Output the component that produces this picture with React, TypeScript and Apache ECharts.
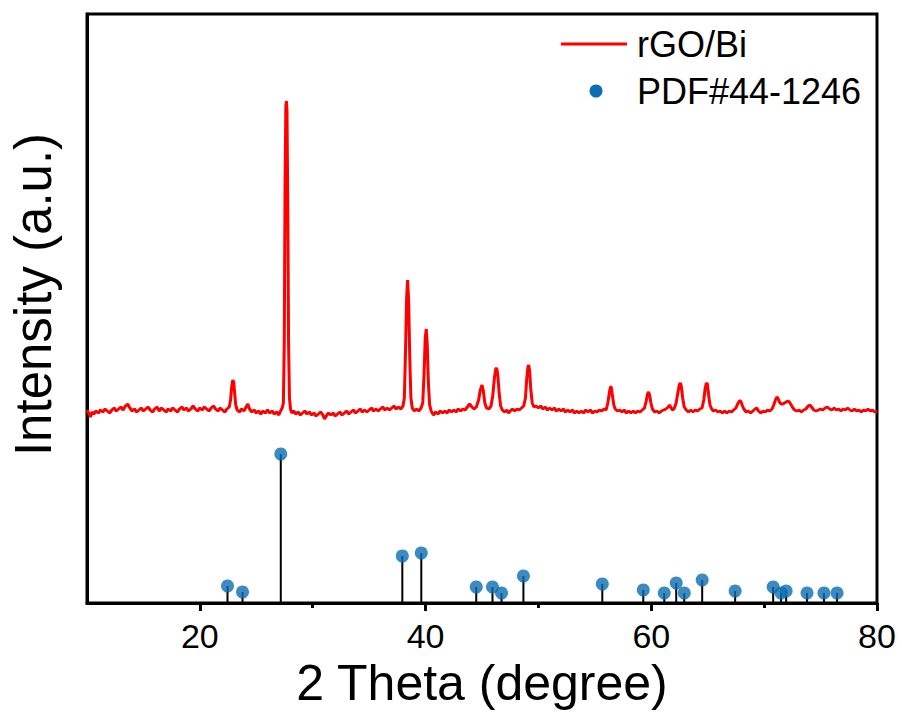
import React, { useEffect, useRef } from "react";
import * as echarts from "echarts";

// ---- data ----
// rGO/Bi XRD pattern: [2θ (degree), intensity (a.u.)]
const xrdPattern: [number, number][] = [
  [10.0, 193], [10.15, 190], [10.3, 186], [10.45, 191], [10.6, 189], [10.8, 192], [11.0, 190], [11.2, 193], [11.4, 191], [11.6, 194],
  [11.8, 192], [12.0, 190], [12.2, 193], [12.4, 195], [12.6, 192], [12.8, 194], [13.0, 196], [13.2, 193], [13.4, 197], [13.6, 199],
  [13.8, 195], [14.0, 192], [14.2, 194], [14.4, 191], [14.6, 193], [14.8, 195], [15.0, 192], [15.2, 194], [15.4, 196], [15.6, 193],
  [15.8, 191], [16.0, 194], [16.2, 196], [16.4, 192], [16.6, 195], [16.8, 193], [17.0, 191], [17.2, 194], [17.4, 192], [17.6, 195],
  [17.8, 193], [18.0, 191], [18.2, 194], [18.4, 196], [18.6, 193], [18.8, 195], [19.0, 192], [19.2, 194], [19.4, 197], [19.6, 194],
  [19.8, 192], [20.0, 195], [20.2, 193], [20.4, 196], [20.6, 194], [20.8, 192], [21.0, 195], [21.2, 197], [21.4, 194], [21.6, 192],
  [21.8, 195], [22.0, 193], [22.2, 191], [22.4, 194], [22.6, 196], [22.72, 203], [22.82, 216], [22.92, 223], [23.0, 221], [23.08, 210],
  [23.18, 198], [23.3, 193], [23.5, 191], [23.7, 194], [23.9, 192], [24.1, 196], [24.25, 199], [24.4, 194], [24.6, 191], [24.8, 193],
  [25.0, 190], [25.2, 192], [25.4, 189], [25.6, 192], [25.8, 190], [26.0, 193], [26.2, 190], [26.4, 192], [26.6, 189], [26.8, 191],
  [27.0, 188], [27.15, 192], [27.3, 195], [27.4, 200], [27.48, 260], [27.55, 420], [27.62, 497], [27.67, 502], [27.72, 492], [27.79, 400],
  [27.86, 260], [27.94, 205], [28.03, 194], [28.15, 190], [28.3, 192], [28.5, 189], [28.7, 191], [28.9, 188], [29.1, 190], [29.3, 192],
  [29.5, 189], [29.7, 191], [29.9, 188], [30.1, 190], [30.3, 187], [30.5, 189], [30.7, 191], [30.9, 188], [31.05, 184], [31.2, 187],
  [31.4, 190], [31.6, 188], [31.8, 190], [32.0, 187], [32.2, 189], [32.4, 191], [32.6, 188], [32.8, 190], [33.0, 192], [33.2, 189],
  [33.4, 191], [33.6, 193], [33.8, 190], [34.0, 192], [34.2, 194], [34.4, 191], [34.6, 193], [34.8, 191], [35.0, 193], [35.2, 195],
  [35.4, 192], [35.6, 194], [35.8, 192], [36.0, 194], [36.2, 196], [36.4, 193], [36.6, 195], [36.8, 193], [37.0, 195], [37.2, 197],
  [37.4, 194], [37.6, 196], [37.8, 194], [38.0, 197], [38.12, 205], [38.22, 250], [38.32, 305], [38.41, 323], [38.5, 302], [38.6, 245],
  [38.7, 205], [38.82, 195], [39.0, 192], [39.2, 194], [39.4, 192], [39.6, 195], [39.75, 200], [39.87, 230], [39.97, 265], [40.06, 274],
  [40.15, 258], [40.25, 220], [40.36, 198], [40.5, 192], [40.7, 188], [40.9, 191], [41.1, 189], [41.3, 192], [41.5, 190], [41.7, 192],
  [41.9, 190], [42.1, 193], [42.3, 191], [42.5, 193], [42.7, 191], [42.9, 194], [43.1, 192], [43.3, 194], [43.5, 193], [43.7, 196],
  [43.9, 199], [44.1, 196], [44.3, 194], [44.5, 196], [44.7, 203], [44.85, 213], [45.0, 218], [45.12, 212], [45.25, 200], [45.4, 195],
  [45.6, 194], [45.8, 197], [45.95, 207], [46.1, 225], [46.22, 234], [46.3, 235], [46.4, 228], [46.52, 210], [46.65, 197], [46.8, 193],
  [47.0, 191], [47.2, 193], [47.35, 190], [47.5, 192], [47.7, 194], [47.9, 192], [48.1, 194], [48.3, 193], [48.5, 195], [48.7, 197],
  [48.85, 205], [48.97, 225], [49.07, 236], [49.14, 238], [49.22, 232], [49.32, 214], [49.45, 200], [49.6, 196], [49.8, 197], [50.0, 195],
  [50.2, 197], [50.4, 194], [50.6, 196], [50.8, 193], [51.0, 195], [51.2, 193], [51.4, 195], [51.6, 192], [51.8, 194], [52.0, 192],
  [52.2, 194], [52.4, 191], [52.6, 193], [52.8, 191], [53.0, 193], [53.2, 190], [53.4, 192], [53.6, 190], [53.8, 192], [54.0, 190],
  [54.2, 193], [54.4, 191], [54.6, 193], [54.8, 190], [55.0, 192], [55.2, 191], [55.4, 193], [55.6, 192], [55.8, 194], [56.0, 193],
  [56.15, 200], [56.28, 210], [56.38, 216], [56.45, 216], [56.55, 208], [56.68, 198], [56.8, 194], [57.0, 192], [57.2, 193], [57.4, 191],
  [57.6, 193], [57.8, 190], [58.0, 192], [58.2, 190], [58.4, 192], [58.6, 190], [58.8, 192], [59.0, 191], [59.2, 193], [59.4, 195],
  [59.55, 202], [59.67, 209], [59.76, 211], [59.85, 208], [59.97, 200], [60.1, 194], [60.3, 191], [60.5, 192], [60.7, 190], [60.9, 192],
  [61.1, 193], [61.3, 194], [61.5, 196], [61.62, 198], [61.75, 195], [61.9, 193], [62.05, 195], [62.2, 200], [62.35, 210], [62.48, 218],
  [62.57, 220], [62.66, 217], [62.78, 205], [62.92, 196], [63.1, 193], [63.3, 191], [63.5, 193], [63.7, 191], [63.9, 193], [64.1, 192],
  [64.3, 194], [64.5, 195], [64.65, 203], [64.78, 215], [64.88, 220], [64.97, 219], [65.08, 208], [65.2, 198], [65.35, 194], [65.5, 192],
  [65.7, 193], [65.9, 191], [66.1, 192], [66.3, 190], [66.5, 192], [66.7, 190], [66.9, 192], [67.1, 191], [67.3, 193], [67.5, 195],
  [67.65, 199], [67.8, 202], [67.92, 202], [68.05, 198], [68.2, 194], [68.4, 191], [68.6, 192], [68.8, 190], [69.0, 192], [69.2, 194],
  [69.35, 195], [69.5, 192], [69.7, 190], [69.9, 192], [70.1, 191], [70.3, 193], [70.5, 192], [70.7, 194], [70.85, 198], [71.0, 203],
  [71.12, 206], [71.22, 205], [71.35, 201], [71.5, 199], [71.65, 199], [71.8, 200], [71.95, 201], [72.1, 202], [72.24, 201], [72.4, 198],
  [72.55, 195], [72.7, 193], [72.9, 192], [73.1, 193], [73.3, 191], [73.5, 193], [73.7, 194], [73.9, 197], [74.05, 198], [74.2, 196],
  [74.4, 193], [74.6, 192], [74.8, 193], [75.0, 194], [75.2, 193], [75.4, 195], [75.6, 196], [75.8, 194], [76.0, 193], [76.2, 195],
  [76.4, 193], [76.6, 194], [76.8, 192], [77.0, 194], [77.2, 193], [77.4, 195], [77.6, 193], [77.8, 192], [78.0, 194], [78.2, 192],
  [78.4, 193], [78.6, 191], [78.8, 193], [79.0, 192], [79.2, 194], [79.4, 192], [79.6, 193], [79.8, 191], [80.0, 192],
];

// PDF#44-1246 reference lines
const pdfAngles: number[] = [
  22.45, 23.78, 27.17, 37.94, 39.62, 44.49, 45.93, 46.73, 48.67, 55.66, 59.29,
  61.15, 62.21, 62.92, 64.51, 67.43, 70.8, 71.5, 71.95, 73.8, 75.3, 76.46,
];
const pdfIntensities: number[] = [
  17, 11, 149, 47, 50, 16, 16, 10, 27, 19, 13,
  10, 20, 10, 23, 12, 16, 10, 12, 10, 10, 10,
];

const xRange = { min: 10, max: 80, interval: 10 };
const majorTicks: number[] = [20, 40, 60, 80];
const minorTicks: number[] = [30, 50, 70];
const seriesNames = ["rGO/Bi", "PDF#44-1246"];
const axisTitles = { x: "2 Theta (degree)", y: "Intensity (a.u.)" };

const FONT = "'Liberation Sans', Arial, sans-serif";
const RED = "#ff0000";
const BLUE = "#0b6db3";

export default function App() {
  const ref = useRef<HTMLDivElement>(null);

  useEffect(() => {
    if (!ref.current) return;
    const chart = echarts.init(ref.current, undefined, { renderer: "svg" });
    const pdfData = pdfAngles.map((a, i) => [a, pdfIntensities[i]]);

    chart.setOption({
      animation: false,
      backgroundColor: "#ffffff",
      grid: {
        left: 87,
        right: 25,
        top: 14,
        bottom: 114,
        show: true,
        borderColor: "#000",
        borderWidth: 3,
        backgroundColor: "transparent",
      },
      xAxis: [
        {
          type: "value",
          min: xRange.min,
          max: xRange.max,
          interval: xRange.interval,
          name: axisTitles.x,
          nameLocation: "middle",
          nameGap: 24,
          nameTextStyle: { fontFamily: FONT, fontSize: 50, color: "#000", padding: [0, 0, 0, 0] },
          axisLine: { show: true, onZero: false, lineStyle: { color: "#000", width: 3 } },
          axisTick: { show: true, inside: false, length: 8, customValues: majorTicks, lineStyle: { color: "#000", width: 3 } },
          axisLabel: { fontFamily: FONT, fontSize: 34, color: "#000", margin: 16, customValues: majorTicks },
          splitLine: { show: false },
        },
        {
          type: "value",
          position: "bottom",
          min: xRange.min,
          max: xRange.max,
          interval: xRange.interval,
          axisLine: { show: false, onZero: false },
          axisTick: { show: true, inside: false, length: 5, customValues: minorTicks, lineStyle: { color: "#000", width: 3 } },
          axisLabel: { show: false },
          splitLine: { show: false },
        },
      ],
      yAxis: {
        type: "value",
        min: 0,
        max: 589,
        name: axisTitles.y,
        nameLocation: "middle",
        nameGap: 28,
        nameTextStyle: { fontFamily: FONT, fontSize: 51, color: "#000", padding: [0, 0, 0, 28] },
        axisLine: { show: true, lineStyle: { color: "#000", width: 3 } },
        axisTick: { show: false },
        axisLabel: { show: false },
        splitLine: { show: false },
      },
      graphic: [
        { type: "line", shape: { x1: 561, y1: 44, x2: 627, y2: 44 }, style: { stroke: RED, lineWidth: 3 } },
        { type: "text", x: 637, y: 44, style: { text: seriesNames[0], font: `36px ${FONT}`, fill: "#000", textVerticalAlign: "middle" } },
        { type: "circle", shape: { cx: 596, cy: 91, r: 6.5 }, style: { fill: BLUE } },
        { type: "text", x: 637, y: 91, style: { text: seriesNames[1], font: `36px ${FONT}`, fill: "#000", textVerticalAlign: "middle" } },
      ],
      series: [
        {
          name: seriesNames[0],
          type: "line",
          xAxisIndex: 0,
          data: xrdPattern,
          showSymbol: false,
          symbol: "none",
          lineStyle: { color: RED, width: 3 },
          z: 3,
        },
        {
          name: seriesNames[1] + " lines",
          type: "custom",
          xAxisIndex: 0,
          data: pdfData,
          renderItem: (params: any, api: any) => {
            const x = api.value(0);
            const y = api.value(1);
            const p0 = api.coord([x, 0]);
            const p1 = api.coord([x, y]);
            return {
              type: "line",
              shape: { x1: p0[0], y1: p0[1], x2: p1[0], y2: p1[1] },
              style: { stroke: "#000", lineWidth: 2 },
            };
          },
          z: 2,
        },
        {
          name: seriesNames[1],
          type: "scatter",
          xAxisIndex: 0,
          data: pdfData,
          symbol: "circle",
          symbolSize: 13,
          itemStyle: { color: BLUE },
          z: 4,
        },
      ],
    });

    return () => chart.dispose();
  }, []);

  return (
    <div
      ref={ref}
      style={{ position: "fixed", left: 0, top: 0, width: 902, height: 717, background: "#fff" }}
    />
  );
}
